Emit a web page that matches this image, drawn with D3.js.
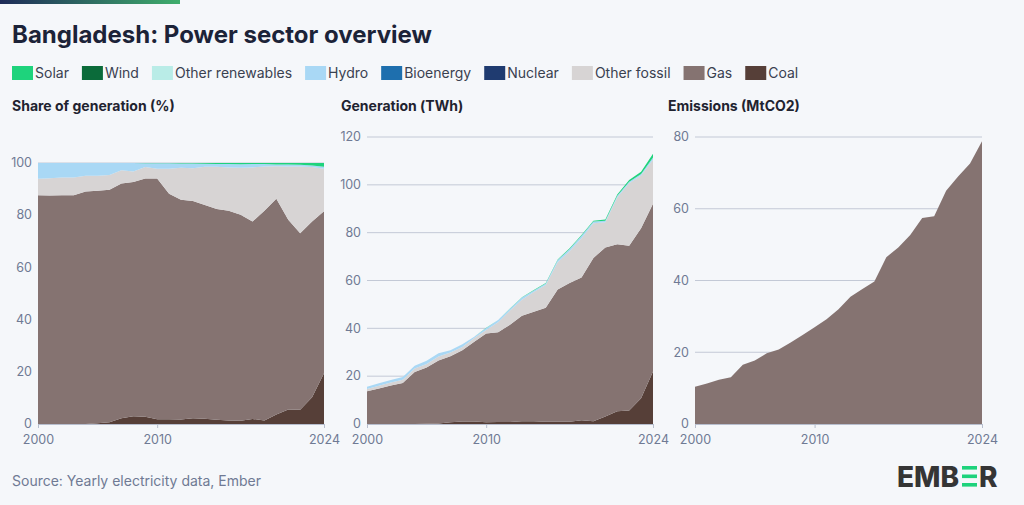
<!DOCTYPE html>
<html>
<head>
<meta charset="utf-8">
<script src="https://cdn.jsdelivr.net/npm/d3@7"></script>
<style>
  body { margin: 0; background: #f5f7fa; }
  text { font-family: Inter, "Open Sans", sans-serif; }
  .tick-label { fill: #6f7a94; font-size: 12.5px; }
  .panel-title { fill: #1f2330; font-size: 14px; font-weight: 700; }
  .legend-text { fill: #3a4150; font-size: 14px; }
</style>
</head>
<body>
<svg id="chart" width="1024" height="505"></svg>
<script>
// data, TWh unless noted
var years = [2000,2001,2002,2003,2004,2005,2006,2007,2008,2009,2010,2011,2012,2013,2014,2015,2016,2017,2018,2019,2020,2021,2022,2023,2024];
var coal = [0,0,0,0,0,0.08,0.2,0.68,1.0,1.0,0.72,0.8,0.85,1.15,1.1,0.95,0.95,0.9,1.55,1.1,3.15,5.3,5.6,10.8,22];
var gas = [13.67,14.88,16.12,17.17,21.74,23.52,26.38,27.69,29.87,33.35,37.11,37.57,40.64,44.15,45.88,47.67,55.26,58.05,59.75,68.35,70.64,69.87,68.96,71.07,70.1];
var otherFossil = [0.99,1.13,1.25,1.35,1.46,1.5,1.66,1.57,1.36,1.6,1.49,4.17,5.94,6.64,8.24,9.55,11.42,13.23,16.36,14.45,10.6,19.58,26.11,22.05,18.41];
var nuclear = [0,0,0,0,0,0,0,0,0,0,0,0,0,0,0,0,0,0,0,0,0,0,0,0,0];
var bioenergy = [0,0,0,0,0,0,0,0,0,0,0,0,0,0,0,0,0,0,0,0,0,0,0,0,0];
var hydro = [0.94,0.99,1.03,1.08,1.2,1.3,1.36,0.86,1.07,0.55,0.85,0.9,0.8,0.95,0.6,0.6,0.9,1.0,1.0,0.75,0.6,0.7,0.65,0.6,0.9];
var otherRenewables = [0,0,0,0,0,0,0,0,0,0,0,0,0,0,0,0,0,0,0,0,0,0,0,0,0];
var wind = [0,0,0,0,0,0,0,0,0,0,0,0,0,0,0,0,0,0,0,0,0,0,0,0.01,0.02];
var solar = [0,0,0,0,0,0,0,0,0,0.02,0.03,0.06,0.07,0.11,0.18,0.23,0.27,0.32,0.34,0.35,0.5,0.55,0.68,0.98,1.6];
// MtCO2
var emissions = [10.4,11.3,12.3,13.0,16.5,17.7,19.7,20.8,22.7,24.8,27,29.2,32,35.5,37.6,39.7,46.5,49.2,52.7,57.4,57.9,65,69,72.6,78.8];

var legendNames = ['Solar','Wind','Other renewables','Hydro','Bioenergy','Nuclear','Other fossil','Gas','Coal'];
var colors = {
  'Solar': '#1ed37c', 'Wind': '#0b6b3a', 'Other renewables': '#b9ece7', 'Hydro': '#a9d8f5',
  'Bioenergy': '#1e6fae', 'Nuclear': '#1f3b70', 'Other fossil': '#d7d4d4', 'Gas': '#857371', 'Coal': '#563f38'
};
var xTicks = [2000, 2010, 2024];

var series = {
  'Coal': coal, 'Gas': gas, 'Other fossil': otherFossil, 'Nuclear': nuclear, 'Bioenergy': bioenergy,
  'Hydro': hydro, 'Other renewables': otherRenewables, 'Wind': wind, 'Solar': solar
};
var stackKeys = ['Coal','Gas','Other fossil','Nuclear','Bioenergy','Hydro','Other renewables','Wind','Solar'];

var genRows = years.map(function(y, i){
  var r = {year: y};
  stackKeys.forEach(function(k){ r[k] = series[k][i]; });
  return r;
});
var shareRows = genRows.map(function(r){
  var tot = d3.sum(stackKeys, function(k){ return r[k]; });
  var s = {year: r.year};
  stackKeys.forEach(function(k){ s[k] = r[k] / tot * 100; });
  return s;
});
var emRows = years.map(function(y, i){ return {year: y, Emissions: emissions[i]}; });

var svg = d3.select('#chart');
svg.append('rect').attr('width', 1024).attr('height', 505).attr('fill', '#f5f7fa');

// top gradient strip
var grad = svg.append('defs').append('linearGradient').attr('id', 'topgrad');
grad.append('stop').attr('offset', '0%').attr('stop-color', '#1e2b58');
grad.append('stop').attr('offset', '100%').attr('stop-color', '#3fae6c');
svg.append('rect').attr('x', 0).attr('y', 0).attr('width', 180).attr('height', 4).attr('fill', 'url(#topgrad)');

svg.append('text').attr('x', 12).attr('y', 43)
  .attr('fill', '#1c2338').style('font-size', '24px').style('font-weight', 700)
  .text('Bangladesh: Power sector overview');

// legend
var lx = 12;
legendNames.forEach(function(name){
  var g = svg.append('g');
  g.append('rect').attr('x', lx).attr('y', 66).attr('width', 21).attr('height', 14).attr('fill', colors[name]);
  var t = g.append('text').attr('class', 'legend-text').attr('x', lx + 23).attr('y', 78).text(name);
  lx += 23 + t.node().getComputedTextLength() + 13;
});

function drawPanel(opt){
  var x = d3.scaleLinear().domain([2000, 2024]).range([opt.x0, opt.x1]);
  var y = d3.scaleLinear().domain([0, opt.max]).range([424, opt.top]);
  var g = svg.append('g');

  svg.append('text').attr('class', 'panel-title').attr('x', opt.titleX).attr('y', 111).text(opt.title);

  // gridlines behind areas
  g.append('g').selectAll('line').data(opt.yTicks.filter(function(d){ return d > 0; }))
    .enter().append('line')
    .attr('x1', opt.x0).attr('x2', opt.x1)
    .attr('y1', function(d){ return y(d); }).attr('y2', function(d){ return y(d); })
    .attr('stroke', '#c3c9d6').attr('stroke-width', 1);

  var stacked = d3.stack().keys(opt.keys)(opt.rows);
  var area = d3.area()
    .x(function(d){ return x(d.data.year); })
    .y0(function(d){ return y(d[0]); })
    .y1(function(d){ return y(d[1]); });
  g.selectAll('path.layer').data(stacked).enter().append('path')
    .attr('class', 'layer')
    .attr('d', area)
    .attr('fill', function(d){ return opt.colorOf(d.key); });

  var yAxis = d3.axisLeft(y).tickValues(opt.yTicks).tickSize(0).tickPadding(6);
  var ya = g.append('g').attr('transform', 'translate(' + opt.x0 + ',0)').call(yAxis);
  ya.select('.domain').remove();
  ya.attr('font-family', null).attr('font-size', null);
  ya.selectAll('text').attr('class', 'tick-label').attr('fill', null).attr('dy', '0.3em');

  var xAxis = d3.axisBottom(x).tickValues(xTicks).tickFormat(d3.format('d')).tickSize(4).tickSizeOuter(0).tickPadding(7);
  var xa = g.append('g').attr('transform', 'translate(0,424)').call(xAxis);
  xa.attr('font-family', null).attr('font-size', null);
  xa.select('.domain').attr('stroke', '#b7bece');
  xa.selectAll('line').attr('stroke', '#b7bece');
  xa.selectAll('text').attr('class', 'tick-label').attr('fill', null);
}

drawPanel({
  title: 'Share of generation (%)', titleX: 12,
  x0: 38, x1: 324, top: 163, max: 100, yTicks: [0,20,40,60,80,100],
  keys: stackKeys, rows: shareRows, colorOf: function(k){ return colors[k]; }
});
drawPanel({
  title: 'Generation (TWh)', titleX: 341,
  x0: 367, x1: 653, top: 137, max: 120, yTicks: [0,20,40,60,80,100,120],
  keys: stackKeys, rows: genRows, colorOf: function(k){ return colors[k]; }
});
drawPanel({
  title: 'Emissions (MtCO2)', titleX: 668,
  x0: 695, x1: 982, top: 137, max: 80, yTicks: [0,20,40,60,80],
  keys: ['Emissions'], rows: emRows, colorOf: function(){ return '#857371'; }
});

svg.append('text').attr('x', 12).attr('y', 486)
  .attr('fill', '#6f7a94').style('font-size', '14px')
  .text('Source: Yearly electricity data, Ember');

// EMBER logo
var logo = svg.append('g').style('font-size', '28px').style('font-weight', 800).attr('fill', '#353535');
logo.append('text').attr('x', 897).attr('y', 486.5).text('EMB');
[466, 474.5, 483].forEach(function(yy){
  logo.append('rect').attr('x', 962).attr('y', yy).attr('width', 15).attr('height', 3.6).attr('fill', '#1ed37c');
});
logo.append('text').attr('x', 979).attr('y', 486.5).text('R');
</script>
</body>
</html>
